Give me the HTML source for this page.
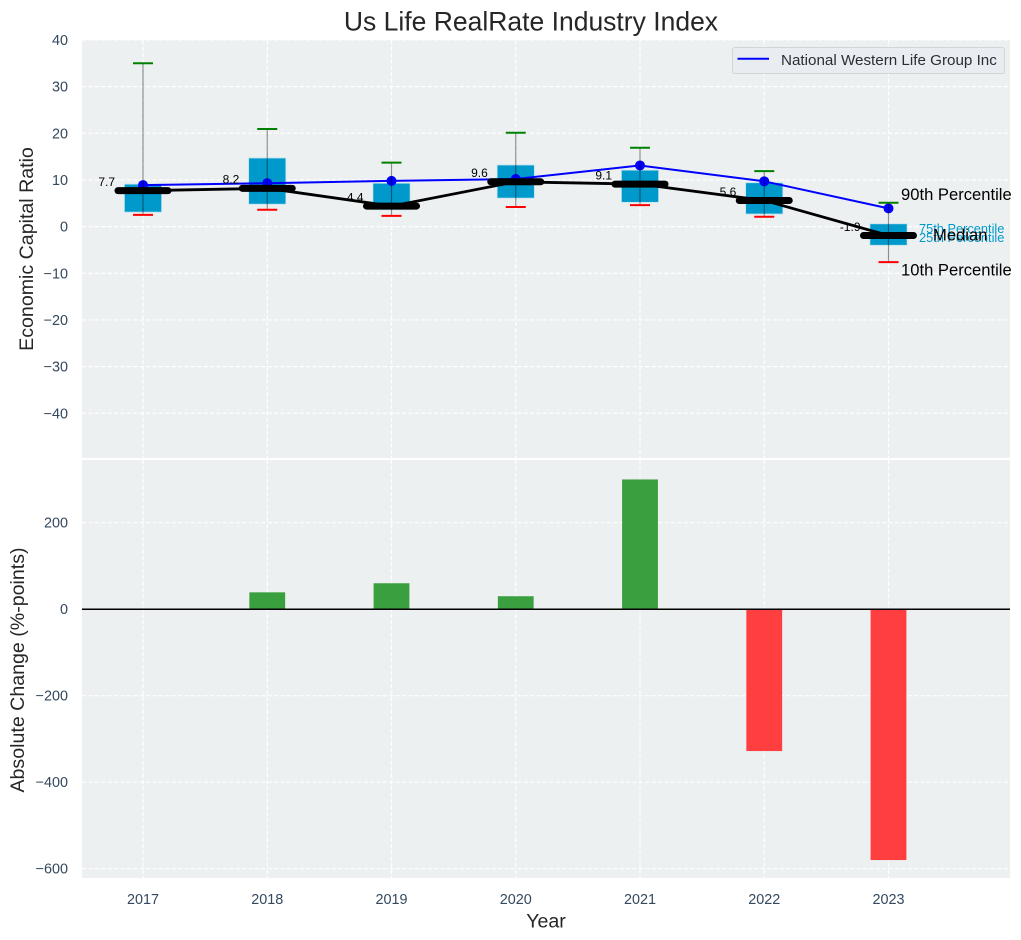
<!DOCTYPE html>
<html lang="en">
<head>
<meta charset="utf-8">
<title>Us Life RealRate Industry Index</title>
<style>
html,body{margin:0;padding:0;background:#fff;}
body{width:1021px;height:940px;overflow:hidden;}
svg{display:block;font-family:"Liberation Sans",Arial,sans-serif;}
</style>
</head>
<body>
<svg id="chart" xmlns="http://www.w3.org/2000/svg" width="1021" height="940" viewBox="0 0 1021 940"></svg>
<script>
const years = [2017, 2018, 2019, 2020, 2021, 2022, 2023];
const p90 = [35, 20.9, 13.7, 20.1, 16.9, 11.9, 5.1];
const p75 = [9.1, 14.7, 9.3, 13.2, 12.1, 9.4, 0.6];
const medians = [7.7, 8.2, 4.4, 9.6, 9.1, 5.6, -1.9];
const p25 = [3.1, 4.8, 3.6, 6.1, 5.2, 2.7, -4];
const p10 = [2.5, 3.6, 2.3, 4.2, 4.6, 2.1, -7.6];
const company = [8.9, 9.3, 9.8, 10.2, 13.1, 9.7, 3.9];
const changes = [0, 39, 60, 30, 300, -328, -580];
const topTicks = [40, 30, 20, 10, 0, -10, -20, -30, -40];
const bottomTicks = [200, 0, -200, -400, -600];

const svg = document.getElementById('chart');
const NS = 'http://www.w3.org/2000/svg';
const panel = {left: 82, right: 1010, top1: 40, bottom1: 458, top2: 460, bottom2: 878};

function x(year) { return 143 + (year - 2017) * 124.25; }
function yTop(v) { return 226.6 - v * 4.667; }
function yBottom(v) { return 609.2 - v * 0.4325; }
function fmt(v) { return String(v).replace('-', '\u2212'); }

function make(tag, attrs, text) {
  const node = document.createElementNS(NS, tag);
  for (const k in attrs) node.setAttribute(k, attrs[k]);
  if (text !== undefined) node.textContent = text;
  svg.appendChild(node);
  return node;
}
function line(x1, y1, x2, y2, style) {
  return make('line', Object.assign({x1, y1, x2, y2}, style));
}
function label(px, py, text, size, fill, anchor) {
  return make('text', {x: px, y: py, 'font-size': size, fill, 'text-anchor': anchor || 'middle'}, text);
}
let n;

n = make('rect', {x: panel.left, y: panel.top1, width: panel.right - panel.left, height: panel.bottom1 - panel.top1, fill: '#ecf0f1'});


n = make('rect', {x: panel.left, y: panel.top2, width: panel.right - panel.left, height: panel.bottom2 - panel.top2, fill: '#ecf0f1'});



const gridStyle = {stroke: '#ffffff', 'stroke-width': 1.2, 'stroke-dasharray': '4.4 2', opacity: 0.95};
const tickColor = '#34495e';

topTicks.forEach(function (t) {
  n = line(panel.left, yTop(t), panel.right, yTop(t), gridStyle);
  
  
  n = label(68, yTop(t) + 5, fmt(t), 14.4, tickColor, 'end');
  
  
});
bottomTicks.forEach(function (t) {
  n = line(panel.left, yBottom(t), panel.right, yBottom(t), gridStyle);
  
  
  n = label(68, yBottom(t) + 5, fmt(t), 14.4, tickColor, 'end');
  
  
});
years.forEach(function (yr) {
  n = line(x(yr), panel.top1, x(yr), panel.bottom1, gridStyle);
  
  
  n = line(x(yr), panel.top2, x(yr), panel.bottom2, gridStyle);
  
  
  n = label(x(yr), 904, String(yr), 14.4, tickColor);
  
  
});

/* percentile boxes */
years.forEach(function (yr, i) {
  n = make('rect', {x: x(yr) - 18.6, y: yTop(p75[i]), width: 37.2, height: yTop(p25[i]) - yTop(p75[i]), fill: '#0099cc', stroke: '#bfe3ef', 'stroke-width': 0.8});
  
  
});

/* company line */
n = make('polyline', {points: years.map(function (yr, i) { return x(yr) + ',' + yTop(company[i]); }).join(' '), fill: 'none', stroke: '#0000ff', 'stroke-width': 2});


years.forEach(function (yr, i) {
  n = make('circle', {cx: x(yr), cy: yTop(company[i]), r: 5, fill: '#0000ff'});
  
  
});

/* whiskers */
years.forEach(function (yr, i) {
  n = line(x(yr), yTop(p90[i]), x(yr), yTop(p10[i]), {stroke: '#000000', 'stroke-opacity': 0.42, 'stroke-width': 1.2});
  
  
  n = line(x(yr) - 10, yTop(p90[i]), x(yr) + 10, yTop(p90[i]), {stroke: '#008000', 'stroke-width': 2});
  
  
  n = line(x(yr) - 10, yTop(p10[i]), x(yr) + 10, yTop(p10[i]), {stroke: '#ff0000', 'stroke-width': 2});
  
  
});

/* median line and thick markers */
n = make('polyline', {points: years.map(function (yr, i) { return x(yr) + ',' + yTop(medians[i]); }).join(' '), fill: 'none', stroke: '#000000', 'stroke-width': 2.8});


years.forEach(function (yr, i) {
  n = line(x(yr) - 25, yTop(medians[i]), x(yr) + 25, yTop(medians[i]), {stroke: '#000000', 'stroke-width': 7, 'stroke-linecap': 'round'});
  
  
  n = label(x(yr) - 28, yTop(medians[i]) - 4.6, fmt(medians[i]).replace('\u2212', '-'), 12, '#000000', 'end');
  
  
});

/* annotations */
n = label(901, 200, '90th Percentile', 16.6, '#000000', 'start');


n = label(901, 275.5, '10th Percentile', 16.6, '#000000', 'start');


n = label(919, 233, '75th Percentile', 12.8, '#0099cc', 'start');


n = label(919, 242, '25th Percentile', 12.8, '#0099cc', 'start');


n = label(933, 240.5, 'Median', 16.6, '#000000', 'start');



/* change bars */
years.forEach(function (yr, i) {
  const y0 = yBottom(0), y1 = yBottom(changes[i]);
  n = make('rect', {x: x(yr) - 17.9, y: Math.min(y0, y1), width: 35.8, height: Math.abs(y1 - y0), fill: changes[i] >= 0 ? '#3a9f3f' : '#ff3f3f'});
  
  
});
n = line(panel.left, yBottom(0), panel.right, yBottom(0), {stroke: '#000000', 'stroke-width': 1.5});



/* legend */
n = make('rect', {x: 732.5, y: 47.5, width: 272, height: 26, rx: 2.5, fill: '#e9ecf0', stroke: '#d2d4d6', 'stroke-width': 1});


n = line(737.5, 58.7, 769, 58.7, {stroke: '#0000ff', 'stroke-width': 2});


n = label(781, 64.8, 'National Western Life Group Inc', 15.2, '#2b2f33', 'start');



/* titles */
n = label(531, 30.5, 'Us Life RealRate Industry Index', 26.5, '#262626');


n = label(546, 927.5, 'Year', 19.6, '#262626');


n = label(0, 0, 'Economic Capital Ratio', 19.6, '#262626');
n.setAttribute('transform', 'translate(33,249) rotate(-90)');


n = label(0, 0, 'Absolute Change (%-points)', 19.6, '#262626');
n.setAttribute('transform', 'translate(24,670) rotate(-90)');


</script>
</body>
</html>
